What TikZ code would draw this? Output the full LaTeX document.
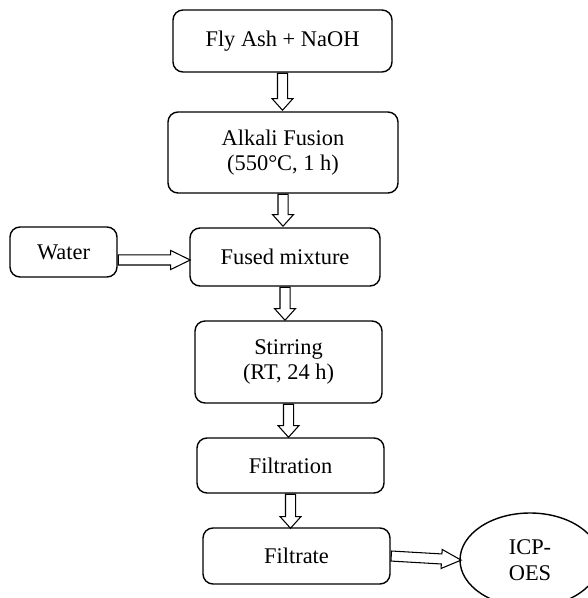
\documentclass[tikz,border=0pt]{standalone}
\usepackage{fontspec}
\setmainfont{Liberation Serif}
\usepackage{tikz}
\usetikzlibrary{shapes.geometric,shapes.arrows}

\tikzset{
  box/.style={draw, thick, rounded corners=0.2cm, align=center, inner sep=0pt,
    font=\fontsize{12.75}{14.5}\selectfont},
  fatarrow/.style={single arrow, draw, semithick, sloped, pos=0, anchor=tail,
    inner xsep=0pt, inner ysep=0.09cm, single arrow head extend=0.11cm,
    single arrow tip angle=84, minimum height=#1},
  sidearrow/.style={fatarrow=#1, single arrow head extend=0.09cm,
    single arrow tip angle=52},
}

\begin{document}
\begin{tikzpicture}
    \useasboundingbox (0, 0) rectangle (11.76, -11.96);

    % process steps
    \node[box, minimum width=4.38cm, minimum height=1.24cm]
      (flyash) at (5.65, -0.82){Fly Ash + NaOH};
    \node[box, minimum width=4.60cm, minimum height=1.62cm]
      (fusion) at (5.66, -3.05){Alkali Fusion\\(550°C, 1 h)};
    \node[box, minimum width=3.80cm, minimum height=1.16cm]
      (fused) at (5.70, -5.14){Fused mixture};
    \node[box, minimum width=3.74cm, minimum height=1.64cm]
      (stirring) at (5.77, -7.24){Stirring\\(RT, 24 h)};
    \node[box, minimum width=3.74cm, minimum height=1.10cm]
      (filtration) at (5.81, -9.31){Filtration};
    \node[box, minimum width=3.74cm, minimum height=1.12cm]
      (filtrate) at (5.93, -11.12){Filtrate};

    % water
    \node[box, minimum width=2.14cm, minimum height=1.00cm]
      (water) at (1.27, -5.04){Water};

    % analysis
    \node[box, ellipse, rounded corners=0pt, minimum width=2.8cm,
      minimum height=1.88cm] (icp) at (10.6, -11.2){ICP-\\OES};

    % downward arrows
    \path (flyash.south) -- node[fatarrow=0.74cm](a1){}
      (flyash.south |- fusion.north);
    \path (fusion.south) -- node[fatarrow=0.64cm](a2){}
      (fusion.south |- fused.north);
    \path (fused.south) -- node[fatarrow=0.66cm](a3){}
      (fused.south |- stirring.north);
    \path (stirring.south) -- node[fatarrow=0.66cm](a4){}
      (stirring.south |- filtration.north);
    \path (filtration.south) -- node[fatarrow=0.68cm](a5){}
      (filtration.south |- filtrate.north);

    % side arrows
    \path (water.east |- 0, -5.2) -- node[sidearrow=1.44cm](a6){}
      (fused.west |- 0, -5.2);
    \path (filtrate.east) -- node[sidearrow=1.40cm](a7){}
      (icp.west);
\end{tikzpicture}
\end{document}
